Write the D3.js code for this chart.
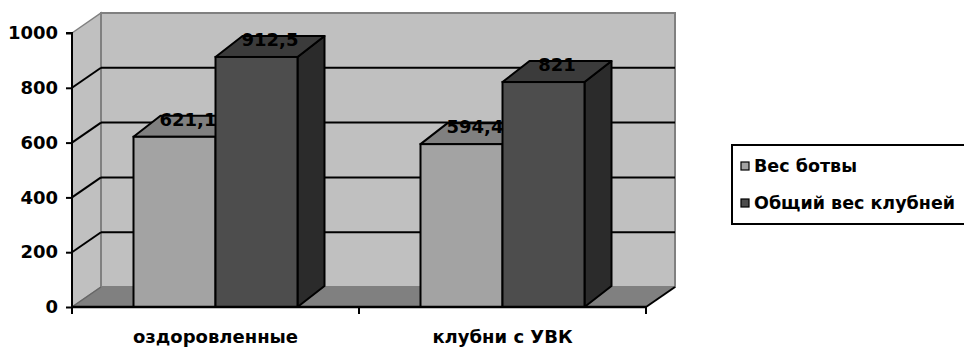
<!DOCTYPE html>
<html><head><meta charset="utf-8">
<script src="https://cdn.jsdelivr.net/npm/d3@7"></script>
<style>html,body{margin:0;padding:0;background:#fff;}svg{display:block;}</style>
</head><body>
<svg id="chart" width="964" height="347"></svg>
<script>
const categories = ["оздоровленные", "клубни с УВК"];
const seriesNames = ["Вес ботвы", "Общий вес клубней"];
const vesBotvy = [621.1, 594.4];
const obshchiyVes = [912.5, 821];
const valueLabels = [["621,1", "594,4"], ["912,5", "821"]];
const yTicks = [0, 200, 400, 600, 800, 1000];

const seriesValues = [vesBotvy, obshchiyVes];
const frontCol = ["#a3a3a3", "#4d4d4d"];
const topCol = ["#808080", "#3b3b3b"];
const sideCol = ["#6e6e6e", "#2b2b2b"];

const svg = d3.select("#chart");
const FONT = "'DejaVu Sans', sans-serif";
const x0L = 72, x0R = 646;
const y = d3.scaleLinear().domain([0, 1000]).range([307, 33]);
const x0 = d3.scaleBand().domain(categories).range([x0L, x0R]);
const x1 = d3.scaleBand().domain(seriesNames).range([0, x0.bandwidth()]).paddingInner(0).paddingOuter(0.75);
const WDX = 29, WDY = -20;   // wall depth
const BDX = 27, BDY = -21;   // bar depth

const g = svg.append("g");
const pts = a => a.map(p => p.join(",")).join(" ");

// left side wall
g.append("polygon")
  .attr("points", pts([[x0L, y(1000)], [x0L + WDX, y(1000) + WDY], [x0L + WDX, y(0) + WDY], [x0L, y(0)]]))
  .attr("fill", "#c0c0c0").attr("stroke", "#808080").attr("stroke-width", 1.5);
// back wall
g.append("rect")
  .attr("x", x0L + WDX).attr("y", y(1000) + WDY)
  .attr("width", x0R - x0L).attr("height", y(0) - y(1000))
  .attr("fill", "#c0c0c0").attr("stroke", "#808080").attr("stroke-width", 2);
// floor
g.append("polygon")
  .attr("points", pts([[x0L, y(0)], [x0R, y(0)], [x0R + WDX, y(0) + WDY], [x0L + WDX, y(0) + WDY]]))
  .attr("fill", "#808080").attr("stroke", "none");
g.append("line").attr("x1", x0L).attr("y1", y(0)).attr("x2", x0L + WDX).attr("y2", y(0) + WDY)
  .attr("stroke", "#666").attr("stroke-width", 1.5);
g.append("line").attr("x1", x0R).attr("y1", y(0)).attr("x2", x0R + WDX).attr("y2", y(0) + WDY)
  .attr("stroke", "#000").attr("stroke-width", 2);

// gridlines
const gridVals = yTicks.filter(v => v > 0 && v < 1000);
g.selectAll(".gdiag").data(gridVals).join("line")
  .attr("x1", x0L).attr("y1", d => y(d)).attr("x2", x0L + WDX).attr("y2", d => y(d) + WDY)
  .attr("stroke", "#000").attr("stroke-width", 2);
g.selectAll(".gback").data(gridVals).join("line")
  .attr("x1", x0L + WDX).attr("y1", d => y(d) + WDY).attr("x2", x0R + WDX).attr("y2", d => y(d) + WDY)
  .attr("stroke", "#000").attr("stroke-width", 2);

// value axis
const yAxis = d3.axisLeft(y).tickValues(yTicks).tickSize(6).tickPadding(8).tickFormat(d3.format("d"));
const ya = svg.append("g").attr("transform", `translate(${x0L},0)`).call(yAxis);
ya.select(".domain").attr("stroke", "#000").attr("stroke-width", 2).attr("d", `M-6,${y(1000)}H0V${y(0)}`);
ya.selectAll(".tick line").attr("stroke", "#000").attr("stroke-width", 2);
ya.selectAll(".tick text").attr("font-family", FONT).attr("font-weight", "bold").attr("font-size", 18).attr("fill", "#000");

// bars
categories.forEach((c, ci) => {
  seriesNames.forEach((s, si) => {
    const v = seriesValues[si][ci];
    const xl = x0(c) + x1(s), xr = xl + x1.bandwidth();
    const yt = y(v), yb = y(0);
    const bg = g.append("g");
    bg.append("polygon")
      .attr("points", pts([[xr, yt], [xr + BDX, yt + BDY], [xr + BDX, yb + BDY], [xr, yb]]))
      .attr("fill", sideCol[si]).attr("stroke", "#000").attr("stroke-width", 2).attr("stroke-linejoin", "round");
    bg.append("polygon")
      .attr("points", pts([[xl, yt], [xl + BDX, yt + BDY], [xr + BDX, yt + BDY], [xr, yt]]))
      .attr("fill", topCol[si]).attr("stroke", "#000").attr("stroke-width", 2).attr("stroke-linejoin", "round");
    bg.append("rect")
      .attr("x", xl).attr("y", yt).attr("width", xr - xl).attr("height", yb - yt)
      .attr("fill", frontCol[si]).attr("stroke", "#000").attr("stroke-width", 2);
  });
});

// category axis
const xAxis = d3.axisBottom(x0).tickSize(0).tickPadding(0);
const xa = svg.append("g").attr("transform", `translate(0,${y(0)})`).call(xAxis);
xa.select(".domain").attr("stroke", "#000").attr("stroke-width", 2.5).attr("d", `M${x0L},0H${x0R}`);
xa.selectAll(".tick text").attr("font-family", FONT).attr("font-weight", "bold").attr("font-size", 18)
  .attr("fill", "#000").attr("y", 36).attr("dy", 0);
svg.append("g").selectAll("line").data([x0L, x0(categories[1]), x0R]).join("line")
  .attr("x1", d => d).attr("x2", d => d).attr("y1", y(0)).attr("y2", y(0) + 7)
  .attr("stroke", "#000").attr("stroke-width", 2);

// value labels
categories.forEach((c, ci) => {
  seriesNames.forEach((s, si) => {
    const v = seriesValues[si][ci];
    const cx = x0(c) + x1(s) + x1.bandwidth() / 2 + BDX / 2;
    svg.append("text").attr("x", cx).attr("y", y(v) - 11)
      .attr("text-anchor", "middle").attr("font-family", FONT).attr("font-weight", "bold")
      .attr("font-size", 18).attr("fill", "#000").text(valueLabels[si][ci]);
  });
});

// legend
const lg = svg.append("g");
lg.append("rect").attr("x", 732).attr("y", 145).attr("width", 260).attr("height", 79)
  .attr("fill", "#fff").attr("stroke", "#000").attr("stroke-width", 2);
seriesNames.forEach((s, si) => {
  const cy = 166 + si * 37;
  lg.append("rect").attr("x", 741).attr("y", cy - 4).attr("width", 8).attr("height", 8)
    .attr("fill", frontCol[si]).attr("stroke", "#000").attr("stroke-width", 1.2);
  lg.append("text").attr("x", 754).attr("y", cy + 6).attr("font-family", FONT).attr("font-weight", "bold")
    .attr("font-size", 17.5).attr("fill", "#000").text(s);
});
</script>
</body></html>
